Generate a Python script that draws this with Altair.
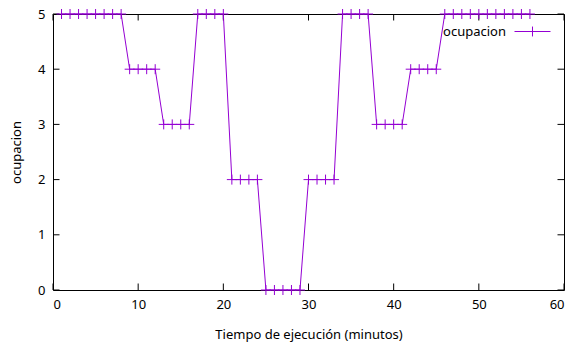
import altair as alt
import pandas as pd

# data
minutes = list(range(1, 57))
occupancy = ([5] * 8 + [4] * 4 + [3] * 4 + [5] * 4 + [2] * 4 + [0] * 5 +
             [2] * 4 + [5] * 4 + [3] * 4 + [4] * 4 + [5] * 11)
x_ticks = [0, 10, 20, 30, 40, 50, 60]
y_ticks = [0, 1, 2, 3, 4, 5]
series_name = "ocupacion"

PURPLE = "#9400D3"
FONT = "Noto Sans"
FS = 13

df = pd.DataFrame({"t": minutes, "ocupacion": occupancy, "serie": series_name})
xt = pd.DataFrame({"v": x_ticks})
yt = pd.DataFrame({"v": y_ticks})

xscale = alt.Scale(domain=[0, 60], nice=False, zero=False)
yscale = alt.Scale(domain=[0, 5], nice=False, zero=False)

xaxis = alt.Axis(values=x_ticks, tickSize=0, domain=False, grid=False,
                 labelPadding=8, titlePadding=17, labelFontSize=FS,
                 titleFontSize=FS, titleFontWeight="normal", labelColor="black",
                 titleColor="black", labelFont=FONT, titleFont=FONT,
                 title="Tiempo de ejecución (minutos)")
yaxis = alt.Axis(values=y_ticks, tickSize=0, domain=False, grid=False,
                 labelPadding=8, titlePadding=14, labelFontSize=FS,
                 titleFontSize=FS, titleFontWeight="normal", labelColor="black",
                 titleColor="black", labelFont=FONT, titleFont=FONT,
                 title="ocupacion")

color = alt.Color("serie:N",
                  scale=alt.Scale(domain=[series_name], range=[PURPLE]),
                  legend=alt.Legend(title=None, orient="none", legendX=473,
                                    legendY=11, padding=0,
                                    symbolType="M-4,0L4,0M0,-1.1L0,1.1",
                                    symbolSize=81, symbolStrokeWidth=1,
                                    symbolFillColor="transparent",
                                    labelAlign="right",
                                    labelOffset={"expr": "-33"},
                                    labelFontSize=FS, labelFont=FONT,
                                    labelColor="black"))

base = alt.Chart(df)
line = base.mark_line(strokeWidth=1).encode(
    x=alt.X("t:Q", scale=xscale, axis=xaxis),
    y=alt.Y("ocupacion:Q", scale=yscale, axis=yaxis),
    color=color,
)
points = base.mark_point(shape="M-1,0L1,0M0,-1L0,1", size=100, filled=False,
                         strokeWidth=1, opacity=1).encode(
    x=alt.X("t:Q", scale=xscale),
    y=alt.Y("ocupacion:Q", scale=yscale),
    color=color,
)

TICK = dict(filled=False, strokeWidth=1, color="black", opacity=1, size=169)
bottom = alt.Chart(xt).mark_point(shape="M0,0L0,-1", **TICK).encode(
    x=alt.X("v:Q", scale=xscale), y=alt.datum(0))
top = alt.Chart(xt).mark_point(shape="M0,0L0,1", **TICK).encode(
    x=alt.X("v:Q", scale=xscale), y=alt.datum(5))
left = alt.Chart(yt).mark_point(shape="M0,0L1,0", **TICK).encode(
    y=alt.Y("v:Q", scale=yscale), x=alt.datum(0))
right = alt.Chart(yt).mark_point(shape="M0,0L-1,0", **TICK).encode(
    y=alt.Y("v:Q", scale=yscale), x=alt.datum(60))

chart = alt.layer(bottom, top, left, right, line, points).properties(
    width=511, height=276,
    autosize=alt.AutoSizeParams(type="none"),
    padding={"left": 53, "top": 14, "right": 16, "bottom": 59},
    background="white",
).configure_view(stroke="black", strokeWidth=1)

chart.save("out.html", embed_options={"renderer": "svg", "actions": False})
